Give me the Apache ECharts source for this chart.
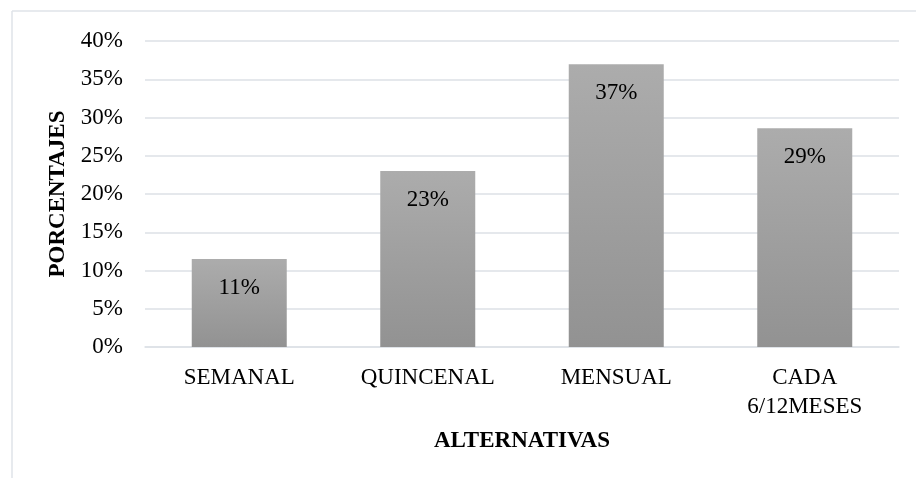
<!DOCTYPE html>
<html>
<head>
<meta charset="utf-8">
<script src="https://cdn.jsdelivr.net/npm/echarts@6/dist/echarts.min.js"></script>
<style>
html,body{margin:0;padding:0;background:#fff;}
#chart{width:916px;height:478px;}
</style>
</head>
<body>
<div id="chart"></div>
<script>
var categories = ['SEMANAL', 'QUINCENAL', 'MENSUAL', 'CADA\n6/12MESES'];
var values = [11.5, 23.0, 36.95, 28.6];
var valueLabels = ['11%', '23%', '37%', '29%'];
var yTicks = [0, 5, 10, 15, 20, 25, 30, 35, 40];

var font = '"Liberation Serif", "Times New Roman", serif';
var chart = echarts.init(document.getElementById('chart'));
chart.setOption({
  animation: false,
  backgroundColor: '#ffffff',
  graphic: [
    { type: 'line', shape: { x1: 12, y1: 11, x2: 916, y2: 11 }, style: { stroke: '#dfe3e8', lineWidth: 1.5 } },
    { type: 'line', shape: { x1: 12, y1: 11, x2: 12, y2: 478 }, style: { stroke: '#dfe3e8', lineWidth: 1.5 } }
  ],
  grid: { left: 145, right: 17, top: 41, bottom: 131, containLabel: false },
  xAxis: {
    type: 'category',
    data: categories,
    name: 'ALTERNATIVAS',
    nameLocation: 'middle',
    nameGap: 83,
    nameTextStyle: { fontFamily: font, fontSize: 23, fontWeight: 'bold', color: '#000' },
    axisTick: { show: false },
    axisLine: { show: true, lineStyle: { color: '#dde1e6', width: 1.5 } },
    axisLabel: { fontFamily: font, fontSize: 23, color: '#000', margin: 16, lineHeight: 29, interval: 0 }
  },
  yAxis: {
    type: 'value',
    min: yTicks[0],
    max: yTicks[yTicks.length - 1],
    interval: 5,
    name: 'PORCENTAJES',
    nameLocation: 'middle',
    nameGap: 73,
    nameTextStyle: { fontFamily: font, fontSize: 23, fontWeight: 'bold', color: '#000' },
    axisLine: { show: false },
    axisTick: { show: false },
    splitLine: { lineStyle: { color: '#dde1e6', width: 1.5 } },
    axisLabel: { fontFamily: font, fontSize: 23, color: '#000', margin: 22, formatter: function (v) { return v + '%'; } }
  },
  series: [{
    type: 'bar',
    data: values,
    barWidth: 95,
    itemStyle: {
      color: new echarts.graphic.LinearGradient(0, 0, 0, 1, [
        { offset: 0, color: '#acacac' },
        { offset: 1, color: '#929292' }
      ])
    },
    label: {
      show: true,
      position: 'insideTop',
      distance: 17,
      fontFamily: font,
      fontSize: 23,
      color: '#000',
      formatter: function (p) { return valueLabels[p.dataIndex]; }
    }
  }]
});
</script>
</body>
</html>
